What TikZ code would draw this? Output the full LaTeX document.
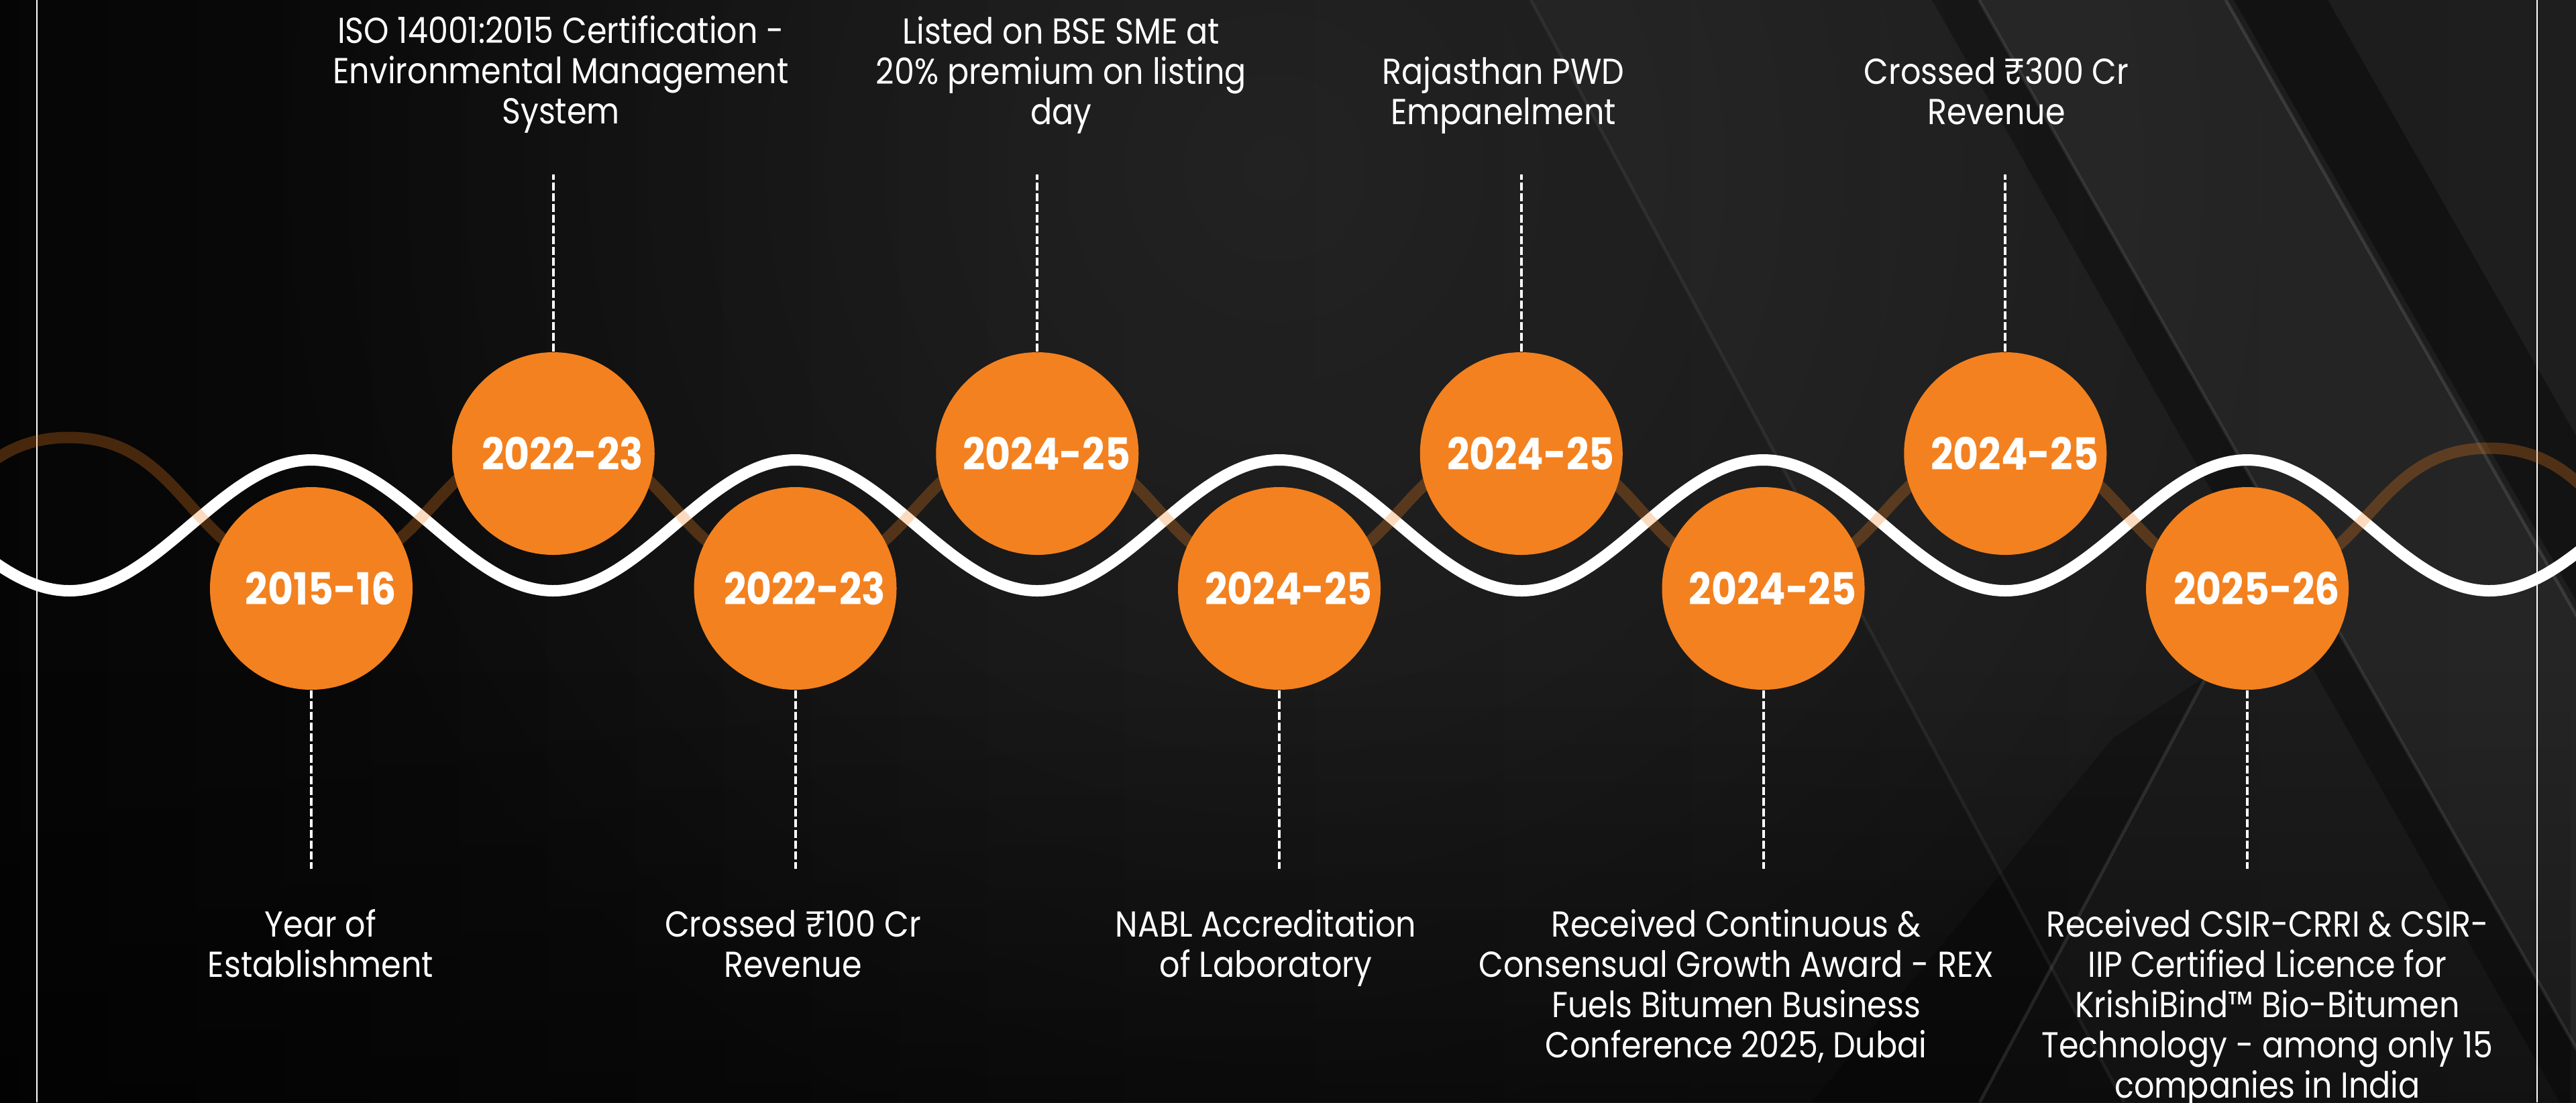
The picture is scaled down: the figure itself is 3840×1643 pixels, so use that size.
\documentclass[tikz,border=0pt]{standalone}
\usepackage{fontspec}
\setmainfont{Poppins}[FakeStretch=0.885]
\usetikzlibrary{fadings}

\definecolor{ballorange}{HTML}{F3811F}
\definecolor{bgmid}{HTML}{111111}
\definecolor{bgright}{HTML}{1A1A1A}

% centred stacks of lines: \upstack sits on its last baseline, \downstack hangs from its first
\newcommand{\upstack}[1]{\vbox{\halign{\hfil##\hfil\cr#1\crcr}}}
\newcommand{\downstack}[1]{\vtop{\halign{\hfil##\hfil\cr#1\crcr}}}

\pgfdeclarehorizontalshading{backdrop}{100bp}{color(0bp)=(black); color(16bp)=(black); color(45bp)=(bgmid); color(78bp)=(bgright); color(100bp)=(bgright)}
\tikzfading[name=glowfade, inner color=transparent!0, outer color=transparent!100]
\tikzfading[name=floorfade, top color=transparent!100, bottom color=transparent!0]

\tikzset{
  yearball/.style={circle, fill=ballorange, minimum size=75.5pt, inner sep=0pt},
  yeartext/.style={text=white, inner sep=0pt, font=\fontsize{16.5pt}{18pt}\selectfont\bfseries},
  milestone/.style={text=white, inner sep=0pt, anchor=base, font=\fontsize{13.45pt}{15pt}\selectfont},
  leader/.style={white, line width=1pt, dash pattern=on 3pt off 1pt},
  ribbon/.style={white, line width=4.25pt},
  shadowribbon/.style={ballorange, opacity=0.28, line width=4.25pt},
  crease/.style={white, line width=1.2pt},
}

\begin{document}
\begin{tikzpicture}[x=0.25pt, y=-0.25pt]
\useasboundingbox (0,0) rectangle (3840,1643);
\begin{scope}
\clip (0,0) rectangle (3840,1643);

% dark backdrop
\shade[shading=backdrop] (0,0) rectangle (3840,1643);
\fill[white, opacity=0.07, path fading=glowfade] (300,-1400) rectangle (3500,1900);
\fill[black, opacity=0.45, path fading=floorfade] (0,1000) rectangle (3840,1643);

% draped folds on the right
\fill[white, opacity=0.025] (2282,0) -- (3840,0) -- (3840,1643) -- (3166,1643) -- cycle;
\fill[black, opacity=0.30] (2880,0) -- (2950,0) -- (3886,1643) -- (3816,1643) -- cycle;
\fill[white, opacity=0.03] (2950,0) -- (3318,0) -- (4254,1643) -- (3886,1643) -- cycle;
\fill[black, opacity=0.35] (3330,0) -- (3470,0) -- (4406,1643) -- (4266,1643) -- cycle;
\fill[black, opacity=0.25] (2700,1643) -- (2951,1643) -- (3291,1006) -- (3150,1100) -- cycle;
\draw[crease, opacity=0.06] (2282,0) -- (3166,1643);
\draw[crease, opacity=0.09] (2950,0) -- (3886,1643);
\draw[crease, opacity=0.11] (3318,0) -- (4254,1643);
\draw[crease, opacity=0.10] (2951,1643) -- (3320,950);

% frame rules near the edges
\draw[white, line width=0.6pt] (55,0) -- (55,1643);
\draw[white, line width=0.6pt] (3782,0) -- (3782,1643);

% white timeline wave
\draw[ribbon] plot[domain=-40:3880, samples=320, smooth] (\x, {783-97.5*cos((\x-464)/721.5*360)});

% translucent orange counter-wave
\draw[shadowribbon] (-258,850.4)
  .. controls (-77.625,850.4) and (-77.625,652.0) .. (102.75,652.0)
  .. controls (283.125,652.0) and (283.125,853.6) .. (463.5,853.6)
  .. controls (643.875,853.6) and (643.875,655.2) .. (824.25,655.2)
  .. controls (1004.625,655.2) and (1004.625,856.8) .. (1185,856.8)
  .. controls (1365.375,856.8) and (1365.375,658.4) .. (1545.75,658.4)
  .. controls (1726.125,658.4) and (1726.125,860.0) .. (1906.5,860.0)
  .. controls (2086.875,860.0) and (2086.875,661.6) .. (2267.25,661.6)
  .. controls (2447.625,661.6) and (2447.625,863.2) .. (2628,863.2)
  .. controls (2808.375,863.2) and (2808.375,664.8) .. (2988.75,664.8)
  .. controls (3169.125,664.8) and (3169.125,866.4) .. (3349.5,866.4)
  .. controls (3529.875,866.4) and (3529.875,668.0) .. (3710.25,668.0)
  .. controls (3890.625,668.0) and (3890.625,869.6) .. (4071,869.6);

% year discs
\node[yearball] (y1) at (464,877) {};
\node[yearball] (y2) at (824.75,676) {};
\node[yearball] (y3) at (1185.5,877) {};
\node[yearball] (y4) at (1546.25,676) {};
\node[yearball] (y5) at (1907,877) {};
\node[yearball] (y6) at (2267.75,676) {};
\node[yearball] (y7) at (2628.5,877) {};
\node[yearball] (y8) at (2989.25,676) {};
\node[yearball] (y9) at (3350,877) {};

\node[yeartext] (n1) at ([xshift=3.5pt]y1.center) {2015-16};
\node[yeartext] (n2) at ([xshift=3.5pt]y2.center) {2022-23};
\node[yeartext] (n3) at ([xshift=3.5pt]y3.center) {2022-23};
\node[yeartext] (n4) at ([xshift=3.5pt]y4.center) {2024-25};
\node[yeartext] (n5) at ([xshift=3.5pt]y5.center) {2024-25};
\node[yeartext] (n6) at ([xshift=3.5pt]y6.center) {2024-25};
\node[yeartext] (n7) at ([xshift=3.5pt]y7.center) {2024-25};
\node[yeartext] (n8) at ([xshift=3.5pt]y8.center) {2024-25};
\node[yeartext] (n9) at ([xshift=3.5pt]y9.center) {2025-26};

% milestone texts above the upper discs
\node[milestone] (t2) at (836,184) {\upstack{ISO 14001:2015 Certification -\cr Environmental Management\cr System}};
\node[milestone] (t4) at (1582,185) {\upstack{Listed on BSE SME at\cr 20\% premium on listing\cr day}};
\node[milestone] (t6) at (2241,185) {\upstack{Rajasthan PWD\cr Empanelment}};
\node[milestone] (t8) at (2976,185) {\upstack{Crossed ₹300 Cr\cr Revenue}};

% milestone texts below the lower discs
\node[milestone] (t1) at (478,1396) {\downstack{Year of\cr Establishment}};
\node[milestone] (t3) at (1182,1396) {\downstack{Crossed ₹100 Cr\cr Revenue}};
\node[milestone] (t5) at (1887,1396) {\downstack{NABL Accreditation\cr of Laboratory}};
\node[milestone] (t7) at (2588,1396) {\downstack{Received Continuous \&\cr Consensual Growth Award - REX\cr Fuels Bitumen Business\cr Conference 2025, Dubai}};
\node[milestone] (t9) at (3380,1396) {\downstack{Received CSIR-CRRI \& CSIR-\cr IIP Certified Licence for\cr KrishiBind™ Bio-Bitumen\cr Technology - among only 15\cr companies in India}};

% dashed leaders
\coordinate (d2) at (824.75,260);
\coordinate (d4) at (1546.25,260);
\coordinate (d6) at (2267.75,260);
\coordinate (d8) at (2989.25,260);
\coordinate (d1) at (464,1295);
\coordinate (d3) at (1185.5,1295);
\coordinate (d5) at (1907,1295);
\coordinate (d7) at (2628.5,1295);
\coordinate (d9) at (3350,1295);
\foreach \k in {2,4,6,8} { \draw[leader] (y\k.north) -- (d\k); }
\foreach \k in {1,3,5,7,9} { \draw[leader] (y\k.south) -- (d\k); }

\end{scope}
\end{tikzpicture}
\end{document}
